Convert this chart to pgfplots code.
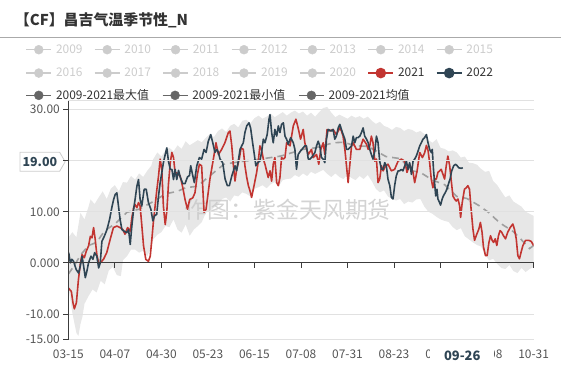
\documentclass[border=0pt]{standalone}
\usepackage{pgfplots}
\pgfplotsset{compat=1.18}
\usepgfplotslibrary{fillbetween}
\usetikzlibrary{shapes.symbols}
\usepackage{fontspec}
\setmainfont{Noto Sans CJK SC}
\definecolor{cred}{RGB}{194,53,49}
\definecolor{cblue}{RGB}{47,69,84}
\definecolor{cdis}{RGB}{204,204,204}
\definecolor{cgray}{RGB}{102,102,102}
\definecolor{ctext}{RGB}{51,51,51}
\definecolor{ctick}{RGB}{85,85,85}
\definecolor{caxis}{RGB}{60,60,60}
\definecolor{cgrid}{RGB}{225,225,225}
\definecolor{cband}{RGB}{231,231,231}
\definecolor{cmean}{RGB}{160,160,160}
\definecolor{cwm}{RGB}{200,200,200}
\pgfplotsset{
  commonaxis/.style={
    at={(68bp,30bp)}, anchor=south west,
    scale only axis, width=466bp, height=239bp,
    xmin=0, xmax=230, ymin=-15, ymax=31.7,
    legend image code/.code={
      \draw[##1, line width=1.5bp] (0bp,0bp) -- (25bp,0bp);
      \fill[##1] (12.5bp,0bp) circle (4.5bp);
    },
    legend cell align=left,
  },
}
\begin{document}
\begin{tikzpicture}
% ---------- background axis: frame, band, mean ----------
\begin{axis}[
  commonaxis,
  axis on top,
  axis y line=left, axis x line=middle,
  hide obscured x ticks=false,
  axis line style={-, color=caxis, line width=0.8bp},
  tick align=outside, major tick length=5bp,
  tick style={color=caxis, line width=0.8bp},
  xtick={0,23,...,230},
  xticklabels={03-15,04-07,04-30,05-23,06-15,07-08,07-31,08-23,09-15,10-08,10-31},
  xticklabel style={yshift=-78.5bp, font=\fontsize{12}{14}\selectfont, color=ctick},
  ytick={-15,-10,0,10,20,30},
  yticklabels={-15.00,-10.00,0.000,10.00,,30.00},
  yticklabel style={font=\fontsize{12}{14}\selectfont, color=ctick},
  extra y ticks={31.7}, extra y tick labels={},
  extra y tick style={major tick length=0pt, grid=major},
  ymajorgrids, grid style={color=cgrid, line width=0.8bp},
  legend columns=3,
  legend style={at={(-0.0923,1.048)}, anchor=north west,
    draw=none, fill=none, inner sep=0pt,
    font=\fontsize{12}{14}\selectfont,
    column sep=0bp, nodes={inner sep=0pt},
    /tikz/every odd column/.append style={column sep=4bp}},
]
\addlegendimage{color=cgray}\addlegendentry{\textcolor{ctext}{\makebox[106bp][l]{2009-2021最大值}}}
\addlegendimage{color=cgray}\addlegendentry{\textcolor{ctext}{\makebox[106bp][l]{2009-2021最小值}}}
\addlegendimage{color=cgray}\addlegendentry{\textcolor{ctext}{\makebox[106bp][l]{2009-2021均值}}}
\addplot[name path=up, draw=none, forget plot] table {
0 4.9
2 6.0
4 5.0
6 9.8
8 8.5
10 11.0
11 12.4
13 11.5
15 12.8
17 14.0
19 12.5
21 14.5
23 15.2
25 14.0
27 15.8
29 15.7
31 17.0
33 16.3
35 17.5
37 16.8
39 18.0
41 19.0
42 20.3
44 21.6
46 20.8
48 22.0
50 22.5
52 21.8
54 23.0
56 22.3
58 23.8
60 23.0
62 23.5
64 24.0
66 23.6
68 24.5
70 25.2
72 24.6
74 25.8
76 26.3
78 25.6
80 26.8
82 27.2
84 26.5
86 27.8
88 28.0
90 27.3
92 28.3
94 28.8
96 28.2
98 28.6
100 29.2
102 28.5
104 29.0
106 29.5
108 28.8
110 29.4
112 29.8
114 29.2
116 29.6
118 28.8
120 29.4
122 28.6
124 29.5
126 30.3
128 30.5
130 29.4
132 28.5
134 29.0
136 28.6
138 28.2
140 28.8
142 28.4
144 28.7
146 28.2
148 28.6
150 27.8
152 27.2
154 27.6
156 26.8
158 26.5
160 26.0
162 26.6
164 26.4
166 25.8
168 26.2
170 26.0
172 25.5
174 25.8
176 25.2
178 24.0
180 23.5
182 24.2
184 22.5
186 22.3
188 21.8
190 22.0
192 21.6
194 20.6
196 20.8
198 19.6
200 19.5
202 19.2
204 18.4
206 17.8
208 18.0
210 16.0
212 15.2
214 14.0
216 12.8
218 13.2
220 12.0
222 11.5
224 11.0
226 10.0
228 9.6
230 9.2
};
\addplot[name path=lo, draw=none, forget plot] table {
0 -4.6
2 -9.8
4 -13.7
5 -14.3
6 -12.0
7 -10.5
8 -8.0
10 -6.5
12 -5.2
14 -5.8
16 -3.5
18 -4.2
20 -1.5
22 -0.8
24 -2.4
26 -2.6
27 0.5
29 1.3
31 2.6
33 2.6
35 2.0
37 2.4
39 1.3
41 3.0
42 4.6
44 5.5
46 6.0
48 7.2
50 7.0
52 8.5
54 6.5
56 5.9
58 7.5
60 5.3
62 6.5
64 7.2
66 8.0
68 9.8
70 10.2
72 10.8
74 11.3
76 12.5
78 12.8
80 12.0
82 13.2
84 13.0
86 13.8
88 13.5
90 13.0
92 14.5
94 14.8
96 15.2
98 14.6
100 15.4
102 15.8
104 15.0
106 16.2
108 16.4
110 16.5
112 17.2
114 16.8
116 17.5
118 17.0
120 17.8
122 17.4
124 17.8
126 18.2
128 17.4
130 16.8
132 17.5
134 16.8
136 16.4
138 17.3
140 16.6
142 16.2
144 17.0
146 16.4
148 17.2
150 16.0
152 14.5
154 13.8
156 14.2
158 13.0
160 12.5
162 12.2
164 12.5
166 11.5
168 12.0
170 11.8
172 12.4
174 12.5
176 11.0
178 10.0
180 9.6
182 9.0
184 8.5
186 8.2
188 8.0
190 7.0
192 6.4
194 6.8
196 5.2
198 4.6
200 4.0
202 3.5
204 3.2
206 1.6
208 0.5
210 0.8
212 -0.2
214 -1.0
216 -1.2
218 -0.4
220 -1.6
222 -2.0
224 -1.0
226 -1.8
228 -1.2
230 -0.8
};
\addplot[fill=cband, draw=none, forget plot] fill between[of=up and lo];
\node[font=\fontsize{23}{25}\selectfont, text=cwm, opacity=0.8] at (axis cs:108.5,10.4) {作图：紫金天风期货};
\addplot[color=cmean, line width=1.6bp, dash pattern=on 7bp off 5bp, forget plot] table {
0 -2.2
3 -0.5
6 1.5
10 3.4
14 4.0
18 6.3
23 7.6
29 9.9
35 10.5
42 12.0
48 13.5
54 14.0
58 14.7
64 15.0
68 16.4
72 17.7
77 19.3
85 19.8
95 20.3
105 20.9
116 22.2
122 22.5
131 23.5
136 23.6
142 22.9
148 22.8
157 20.8
164 20.4
170 18.0
174 17.7
180 16.2
186 15.3
192 13.0
197 12.6
203 11.2
208 9.8
213 7.9
220 6.1
224 4.5
228 2.8
230 3.4
};
\end{axis}
% ---------- foreground axis: 2021, 2022, year legend ----------
\begin{axis}[
  commonaxis,
  hide axis,
  legend columns=7,
  legend style={at={(-0.0923,1.2364)}, anchor=north west,
    draw=none, fill=none, inner sep=0pt,
    font=\fontsize{12}{14}\selectfont,
    column sep=0bp, row sep=13bp,
    nodes={inner sep=0pt},
    /tikz/every odd column/.append style={column sep=4bp}},
]
\addlegendimage{color=cdis}\addlegendentry{\textcolor{cdis}{\makebox[38bp][l]{2009}}}
\addlegendimage{color=cdis}\addlegendentry{\textcolor{cdis}{\makebox[38bp][l]{2010}}}
\addlegendimage{color=cdis}\addlegendentry{\textcolor{cdis}{\makebox[38bp][l]{2011}}}
\addlegendimage{color=cdis}\addlegendentry{\textcolor{cdis}{\makebox[38bp][l]{2012}}}
\addlegendimage{color=cdis}\addlegendentry{\textcolor{cdis}{\makebox[38bp][l]{2013}}}
\addlegendimage{color=cdis}\addlegendentry{\textcolor{cdis}{\makebox[38bp][l]{2014}}}
\addlegendimage{color=cdis}\addlegendentry{\textcolor{cdis}{\makebox[38bp][l]{2015}}}
\addlegendimage{color=cdis}\addlegendentry{\textcolor{cdis}{\makebox[38bp][l]{2016}}}
\addlegendimage{color=cdis}\addlegendentry{\textcolor{cdis}{\makebox[38bp][l]{2017}}}
\addlegendimage{color=cdis}\addlegendentry{\textcolor{cdis}{\makebox[38bp][l]{2018}}}
\addlegendimage{color=cdis}\addlegendentry{\textcolor{cdis}{\makebox[38bp][l]{2019}}}
\addlegendimage{color=cdis}\addlegendentry{\textcolor{cdis}{\makebox[38bp][l]{2020}}}
\addplot[color=cred, line width=1.6bp, line join=round] table {
0 -4.9
1.5 -5.6
2.3 -7.8
3 -9.0
4 -7.8
5 -3.3
6 0
6.8 1.6
7.9 1.0
8.9 2.3
10 3.3
10.9 5.2
11.7 4.9
12.5 6.9
13.3 4.6
14.1 1.6
15 0
15.8 0
17.4 0.7
19 2.0
20.7 4.6
22.3 6.9
24 7.2
25.6 6.9
27 6.5
28 5.6
29.3 6.9
30.6 6.2
31.4 8.8
32.3 10.8
33 11.4
33.9 10.8
34.7 11.8
35.5 11.1
36.3 7.5
37.2 3.3
38.3 0.7
39.6 0.3
40.5 1.3
41.3 4.6
42 7.8
42.9 11.1
43.7 14.1
44.6 17.0
45.4 20.3
46.2 18.3
47 11.1
47.9 7.5
48.7 10.1
49.5 15.4
50.4 19.6
51.2 21.6
52 20.6
52.8 17.6
53.6 17.6
55.3 17.0
56.6 14.7
57.7 12.4
58.9 10.5
60 12.4
61.5 12.7
62.6 13.7
63.8 17.3
64.8 19.3
65.9 19.0
67.1 9.9
68.1 10.5
70.0 16.4
71.7 20.3
73.0 23.5
74.2 21.2
75.8 22.2
77.4 23.5
79.1 25.5
79.9 25.8
80.8 22.9
81.6 19.0
82.4 16.0
83.2 18.3
84.5 20.3
85.4 22.5
86.5 22.2
87.3 19.0
88.2 16.7
89.0 15.1
89.8 14.1
90.6 12.8
91.8 15.1
93.1 17.7
93.9 19.9
94.7 22.9
95.5 22.2
96.4 20.3
97.2 19.3
98.0 18.0
98.8 16.7
99.7 18.0
100.5 16.0
101.3 19.3
102.1 20.6
103.0 15.7
103.8 15.1
104.6 16.7
105.4 20.6
106.3 20.3
107.1 20.6
107.9 23.5
109.6 22.9
111.2 26.8
112.5 28.1
113.6 26.4
114.8 24.2
116.1 26.1
116.9 23.5
118.6 21.2
120.2 22.2
121.0 20.6
122.7 21.2
123.8 19.3
124.8 22.2
126.0 23.5
126.8 21.2
127.9 26.1
129.3 25.8
130.9 26.1
132.5 25.1
134.2 26.4
135.0 25.8
135.8 24.8
136.7 22.2
137.5 19.0
138.3 15.7
139.1 19.0
140.0 22.9
140.8 23.5
142.4 22.2
144.1 22.2
145.7 24.2
147.4 23.2
148.2 22.2
149.0 22.9
149.8 24.8
150.6 23.5
151.5 19.9
152.3 20.3
153.1 15.7
153.9 16.4
154.8 19.0
155.6 18.0
156.9 19.0
158.0 19.3
159.7 18.0
161.3 18.3
163.0 19.9
164.6 20.3
166.3 19.9
167.4 17.7
168.7 19.3
170.4 17.7
171.2 15.7
172.4 18.0
173.7 21.6
175.0 20.6
176.1 21.5
177.0 23.0
177.8 22.0
178.6 19.6
179.4 16.4
180.2 14.7
181.1 16.4
181.9 16.4
182.7 17.7
183.5 18.0
184.3 18.3
185.2 17.3
186.0 16.4
186.8 19.0
187.6 20.9
188.5 19.0
189.3 16.0
190.1 13.1
190.9 12.5
191.7 12.1
192.6 12.5
193.4 11.2
193.9 8.9
194.7 11.8
195.8 14.4
196.7 14.7
197.5 15.1
198.3 14.4
199.1 10.5
200.0 6.6
200.8 4.4
201.6 5.3
202.9 6.6
203.7 7.9
204.5 6.0
205.2 3.1
206.2 1.4
207.0 1.4
207.9 4.0
208.7 5.3
209.5 4.4
210.2 4.0
211.0 4.7
211.8 3.4
212.6 5.3
213.4 6.3
214.2 6.0
215.1 5.3
216.1 4.7
217.2 6.0
218.4 6.9
219.7 7.6
220.5 6.6
221.4 4.7
222.2 1.4
223.0 0.8
223.8 2.1
224.7 3.4
226.0 4.4
227.6 4.4
228.8 4.2
230.0 3.4
};
\addlegendentry{\textcolor{ctext}{\makebox[38bp][l]{2021}}}
\addplot[color=cblue, line width=1.6bp, line join=round] table {
0.2 2.0
1 0
1.8 0.7
2.6 0.3
3.9 -1.3
5.1 -2.0
5.9 -0.7
6.8 1.3
7.6 -0.7
8.4 -2.9
9.2 -1.6
10.0 0
11.2 1.3
12.2 0.7
13.0 2.0
14.1 1.3
15.0 -1.0
15.8 0
16.6 4.2
17.8 5.2
19.1 6.5
20.4 8.5
21.5 10.8
22.4 12.4
23.2 13.4
24.0 13.7
24.8 11.1
25.6 8.5
26.5 6.5
27.6 6.2
28.9 5.9
29.8 6.5
30.6 3.6
31.4 7.2
32.3 10.5
33.0 12.4
33.9 15.0
34.7 16.3
35.5 12.4
36.3 11.1
37.5 14.4
38.5 14.4
39.6 11.8
40.8 10.5
41.8 8.2
42.6 9.2
43.7 9.5
44.6 13.1
45.4 15.7
46.2 17.6
47.0 19.6
47.9 21.2
48.7 22.5
49.5 19.9
50.4 18.3
51.2 18.3
52.0 16.3
52.8 18.3
53.6 16.3
54.5 18.1
55.3 16.8
56.6 15.5
57.7 15.5
58.9 16.8
59.9 17.1
60.5 19.0
61.5 17.1
62.3 15.7
63.5 19.0
64.8 20.6
65.9 20.3
67.1 22.2
68.1 21.6
69.2 23.8
70.4 25.1
71.4 23.5
72.5 21.6
73.4 22.2
74.2 21.6
75.0 20.3
76.3 19.6
77.5 16.4
78.6 15.1
79.6 15.1
80.8 17.0
81.6 18.0
82.4 19.0
83.2 18.0
84.0 19.9
84.9 22.2
85.7 22.9
86.5 23.5
87.3 25.5
88.2 26.8
89.3 27.4
90.1 26.4
91.1 23.5
91.8 21.6
92.7 19.0
93.6 19.6
94.7 19.9
95.5 21.6
96.4 24.2
97.2 23.5
98.3 25.1
99.2 28.1
99.7 29.0
100.5 25.5
101.3 23.5
102.1 26.1
103.0 24.8
103.8 26.8
104.6 25.5
105.4 27.1
106.3 27.4
107.1 24.8
107.9 24.2
108.7 23.2
109.9 24.5
111.2 23.5
112.0 22.2
112.8 18.3
113.6 21.2
114.8 21.9
116.1 22.5
116.9 22.9
117.7 22.9
118.6 20.3
119.4 20.3
120.2 20.6
121.9 21.6
122.7 22.9
123.5 23.8
124.3 22.9
125.1 20.6
126.0 20.3
126.8 19.6
127.6 24.2
128.4 26.1
130.1 25.8
130.9 26.1
131.7 24.2
132.5 24.8
133.4 26.4
134.2 27.1
135.5 25.5
136.7 24.2
137.5 22.2
138.3 22.2
139.1 22.5
140.0 22.9
140.8 24.8
141.6 23.5
142.4 24.5
143.2 24.5
144.1 24.8
144.9 25.5
145.7 26.4
146.5 24.8
147.4 24.2
148.2 23.5
149.0 22.2
149.8 21.2
150.6 20.3
151.5 21.9
152.3 24.8
153.1 23.5
153.9 19.9
154.8 18.3
155.6 18.3
156.4 19.6
157.2 19.0
158.0 16.4
158.9 15.1
159.7 12.8
160.5 12.5
161.3 15.1
162.1 17.0
163.0 18.0
163.8 18.0
164.6 18.3
165.4 18.0
166.3 19.0
167.1 19.9
167.9 18.3
168.7 19.6
169.6 17.3
170.4 19.9
171.2 20.3
172.0 20.9
172.9 21.9
173.7 22.9
174.5 23.5
175.3 24.2
176.1 24.5
177.0 25.1
177.8 23.5
178.6 22.2
179.4 21.6
179.9 22.2
180.5 18.3
181.1 15.4
181.6 13.1
182.2 14.4
182.7 12.5
183.5 11.8
184.0 11.3
184.8 12.5
185.4 13.1
186.4 13.8
187.1 14.4
188.1 15.7
188.7 16.4
189.5 18.0
190.5 19.0
191.4 19.3
192.2 19.0
193.0 18.6
194.2 18.5
195.0 18.6
};
\addlegendentry{\textcolor{ctext}{\makebox[38bp][l]{2022}}}
\end{axis}
% ---------- title, separator, pointer labels ----------
\node[anchor=west, font=\bfseries\fontsize{15}{17}\selectfont, text=ctext] at (11bp,350bp) {【CF】昌吉气温季节性\_N};
\draw[color={rgb,255:red,170;green,170;blue,170}, line width=0.8bp] (0bp,333bp) -- (561bp,333bp);
\node[signal, signal to=east, signal pointer angle=120, draw=cdis, fill=white, line width=0.8bp,
      minimum height=19bp, inner xsep=2.5bp, font=\bfseries\fontsize{12.5}{14}\selectfont, text=cblue] at (39.5bp,208bp) {19.00};
\node[fill=white, inner xsep=14bp, inner ysep=3bp, font=\bfseries\fontsize{13}{15}\selectfont, text=cblue] at (462.5bp,14bp) {09-26};
\useasboundingbox (0,0) rectangle (561bp,370bp);
\end{tikzpicture}
\end{document}
